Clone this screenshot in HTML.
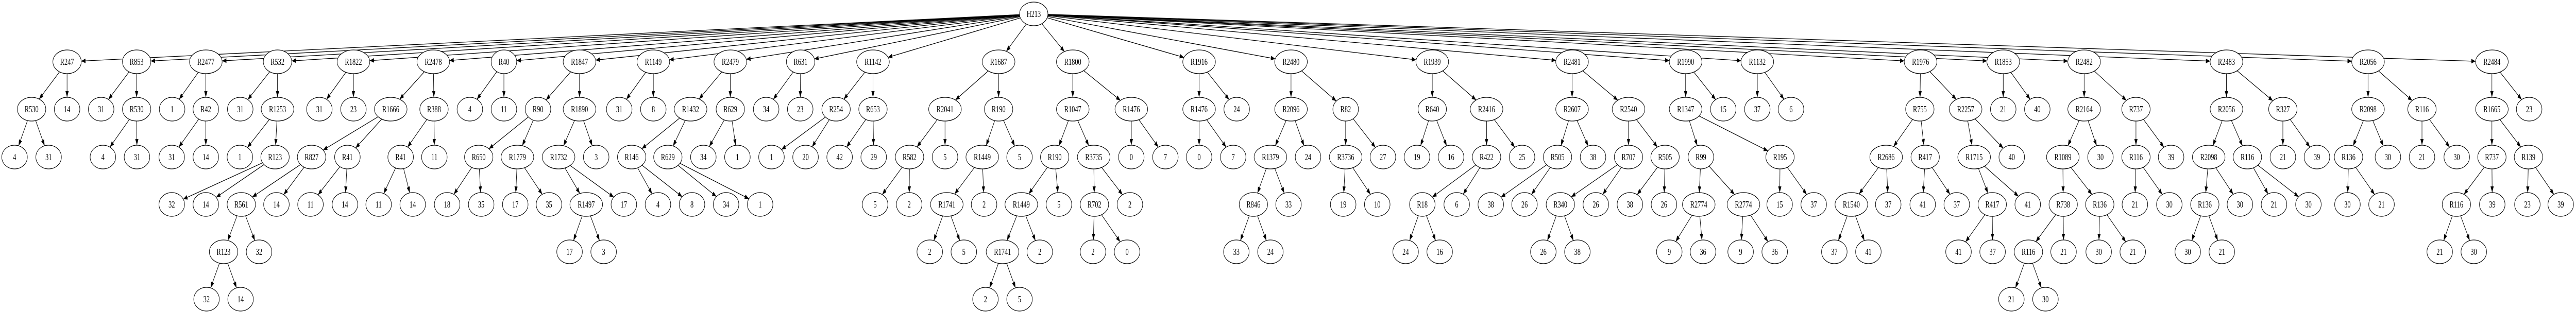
<!DOCTYPE html>
<html><head><meta charset="utf-8">
<style>
html,body{margin:0;padding:0;background:#fff;width:100%;height:100%;overflow:hidden;}
svg{display:block;position:absolute;left:0;top:0;width:100vw;height:100vh;}
</style>
</head><body>
<svg id="g" xmlns="http://www.w3.org/2000/svg" viewBox="0 0 7259 635" preserveAspectRatio="none">
<defs><marker id="ah" markerUnits="userSpaceOnUse" markerWidth="12" markerHeight="9" refX="12" refY="4.5" orient="auto"><path d="M0,0 L12,4.5 L0,9 z" fill="#000"/></marker></defs>
<rect width="7259" height="635" fill="#fff"/>
</svg>
<script>
const L=[27,120,212,305,397,489,581];
const nodes=[];
function n(l,x,lv,p){nodes.push({l:l,x:x,y:L[lv],p:p});return nodes.length-1;}
let a,b,c,d,e;
const r=n('H213',2913,0,-1);
a=n('R247',189,1,r); b=n('R530',89,2,a); n('4',41,3,b); n('31',137,3,b); n('14',189,2,a);
a=n('R853',385,1,r); n('31',285,2,a); b=n('R530',385,2,a); n('4',290,3,b); n('31',386,3,b);
a=n('R2477',580,1,r); n('1',485,2,a); b=n('R42',580,2,a); n('31',484,3,b); n('14',580,3,b);
a=n('R532',782,1,r); n('31',677,2,a); b=n('R1253',782,2,a); n('1',676,3,b); c=n('R123',775,3,b); n('32',484,4,c); n('14',580,4,c);
a=n('R1822',996,1,r); n('31',900,2,a); n('23',996,2,a);
a=n('R2478',1221,1,r); b=n('R1666',1101,2,a); c=n('R827',878,3,b); d=n('R561',680,4,c); e=n('R123',630,5,d); n('32',582,6,e); n('14',678,6,e); n('32',730,5,d); n('14',779,4,c); c=n('R41',979,3,b); n('11',875,4,c); n('14',972,4,c); b=n('R388',1223,2,a); c=n('R41',1129,3,b); n('11',1067,4,c); n('14',1163,4,c); n('11',1224,3,b);
a=n('R40',1420,1,r); n('4',1324,2,a); n('11',1420,2,a);
a=n('R1847',1633,1,r); b=n('R90',1516,2,a); c=n('R650',1349,3,b); n('18',1260,4,c); n('35',1356,4,c); c=n('R1779',1458,3,b); n('17',1452,4,c); n('35',1547,4,c); b=n('R1890',1633,2,a); c=n('R1732',1574,3,b); d=n('R1497',1652,4,c); n('17',1605,5,d); n('3',1701,5,d); n('17',1758,4,c); n('3',1680,3,b);
a=n('R1149',1841,1,r); n('31',1745,2,a); n('8',1841,2,a);
a=n('R2479',2058,1,r); b=n('R1432',1946,2,a); c=n('R146',1780,3,b); n('4',1854,4,c); n('8',1950,4,c); c=n('R629',1882,3,b); n('34',2046,4,c); n('1',2142,4,c); b=n('R629',2058,2,a); n('34',1982,3,b); n('1',2078,3,b);
a=n('R631',2256,1,r); n('34',2159,2,a); n('23',2255,2,a);
a=n('R1142',2460,1,r); b=n('R254',2356,2,a); n('1',2174,3,b); n('20',2270,3,b); b=n('R653',2460,2,a); n('42',2366,3,b); n('29',2462,3,b);
a=n('R1687',2814,1,r); b=n('R2041',2663,2,a); c=n('R582',2563,3,b); n('5',2466,4,c); n('2',2562,4,c); n('5',2663,3,b); b=n('R190',2814,2,a); c=n('R1449',2768,3,b); d=n('R1741',2668,4,c); n('2',2620,5,d); n('5',2716,5,d); n('2',2773,4,c); n('5',2873,3,b);
a=n('R1800',3023,1,r); b=n('R1047',3023,2,a); c=n('R190',2972,3,b); d=n('R1449',2878,4,c); e=n('R1741',2825,5,d); n('2',2777,6,e); n('5',2873,6,e); n('2',2930,5,d); n('5',2984,4,c); c=n('R3735',3082,3,b); d=n('R702',3084,4,c); n('2',3080,5,d); n('0',3176,5,d); n('2',3184,4,c); b=n('R1476',3188,2,a); n('0',3188,3,b); n('7',3284,3,b);
a=n('R1916',3379,1,r); b=n('R1476',3379,2,a); n('0',3379,3,b); n('7',3475,3,b); n('24',3485,2,a);
a=n('R2480',3638,1,r); b=n('R2096',3638,2,a); c=n('R1379',3580,3,b); d=n('R846',3532,4,c); n('33',3484,5,d); n('24',3580,5,d); n('33',3631,4,c); n('24',3686,3,b); b=n('R82',3792,2,a); c=n('R3736',3792,3,b); n('19',3785,4,c); n('10',3881,4,c); n('27',3897,3,b);
a=n('R1939',4036,1,r); b=n('R640',4036,2,a); n('19',3993,3,b); n('16',4089,3,b); b=n('R2416',4189,2,a); c=n('R422',4189,3,b); d=n('R18',4008,4,c); n('24',3961,5,d); n('16',4057,5,d); n('6',4105,4,c); n('25',4289,3,b);
a=n('R2481',4430,1,r); b=n('R2607',4430,2,a); c=n('R505',4389,3,b); n('38',4201,4,c); n('26',4296,4,c); n('38',4489,3,b); b=n('R2540',4589,2,a); c=n('R707',4589,3,b); d=n('R340',4397,4,c); n('26',4349,5,d); n('38',4445,5,d); n('26',4497,4,c); c=n('R505',4692,3,b); n('38',4593,4,c); n('26',4689,4,c);
a=n('R1990',4750,1,r); b=n('R1347',4750,2,a); c=n('R99',4793,3,b); d=n('R2774',4787,4,c); n('9',4704,5,d); n('36',4799,5,d); d=n('R2774',4913,4,c); n('9',4905,5,d); n('36',5001,5,d); c=n('R195',5016,3,b); n('15',5015,4,c); n('37',5111,4,c); n('15',4856,2,a);
a=n('R1132',4952,1,r); n('37',4952,2,a); n('6',5047,2,a);
a=n('R1976',5412,1,r); b=n('R755',5410,2,a); c=n('R2686',5315,3,b); d=n('R1540',5217,4,c); n('37',5169,5,d); n('41',5265,5,d); n('37',5321,4,c); c=n('R417',5425,3,b); n('41',5418,4,c); n('37',5514,4,c); b=n('R2257',5539,2,a); c=n('R1715',5563,3,b); d=n('R417',5614,4,c); n('41',5519,5,d); n('37',5615,5,d); n('41',5714,4,c); n('40',5669,3,b);
a=n('R1853',5645,1,r); n('21',5645,2,a); n('40',5741,2,a);
a=n('R2482',5873,1,r); b=n('R2164',5873,2,a); c=n('R1089',5813,3,b); d=n('R738',5814,4,c); e=n('R116',5716,5,d); n('21',5668,6,e); n('30',5764,6,e); n('21',5815,5,d); d=n('R136',5917,4,c); n('30',5914,5,d); n('21',6010,5,d); n('30',5919,3,b); b=n('R737',6019,2,a); c=n('R116',6019,3,b); n('21',6016,4,c); n('30',6113,4,c); n('39',6118,3,b);
a=n('R2483',6274,1,r); b=n('R2056',6274,2,a); c=n('R2098',6224,3,b); d=n('R136',6213,4,c); n('30',6165,5,d); n('21',6261,5,d); n('30',6312,4,c); c=n('R116',6333,3,b); n('21',6408,4,c); n('30',6505,4,c); b=n('R327',6433,2,a); n('21',6433,3,b); n('39',6529,3,b);
a=n('R2056',6673,1,r); b=n('R2098',6673,2,a); c=n('R136',6618,3,b); n('30',6615,4,c); n('21',6711,4,c); n('30',6729,3,b); b=n('R116',6825,2,a); n('21',6825,3,b); n('30',6923,3,b);
a=n('R2484',7022,1,r); b=n('R1665',7022,2,a); c=n('R737',7022,3,b); d=n('R116',6922,4,c); n('21',6875,5,d); n('30',6971,5,d); n('39',7023,4,c); c=n('R139',7125,3,b); n('23',7122,4,c); n('39',7216,4,c); n('23',7127,2,a);

const RY=23;
function rx(l){ if(l.length>=5) return 46; if(l.length===4) return 40; return 36; }
const NS='http://www.w3.org/2000/svg';
const svg=document.getElementById('g');
function el(t,at,txt){const o=document.createElementNS(NS,t);for(const k in at)o.setAttribute(k,at[k]);if(txt!==undefined)o.textContent=txt;svg.appendChild(o);return o;}
nodes.forEach(nd=>{
  if(nd.p<0) return;
  const p=nodes[nd.p];
  const dx=nd.x-p.x, dy=nd.y-p.y;
  const r1=rx(p.l), r2=rx(nd.l);
  const t1=1/Math.sqrt((dx/r1)**2+(dy/RY)**2);
  const t2=1/Math.sqrt((dx/r2)**2+(dy/RY)**2);
  const x1=p.x+dx*t1, y1=p.y+dy*t1, x2=nd.x-dx*t2, y2=nd.y-dy*t2;
  el('line',{x1:x1.toFixed(1),y1:y1.toFixed(1),x2:x2.toFixed(1),y2:y2.toFixed(1),stroke:'#000','stroke-width':'1.3','marker-end':'url(#ah)'});
});
nodes.forEach(nd=>{
  el('ellipse',{cx:nd.x,cy:nd.y,rx:rx(nd.l),ry:RY,fill:'#fff',stroke:'#000','stroke-width':'1.3'});
  el('text',{x:nd.x,y:nd.y+6,'text-anchor':'middle','font-family':'"Liberation Serif", serif','font-size':'18',fill:'#000'},nd.l);
});
</script>
</body></html>
